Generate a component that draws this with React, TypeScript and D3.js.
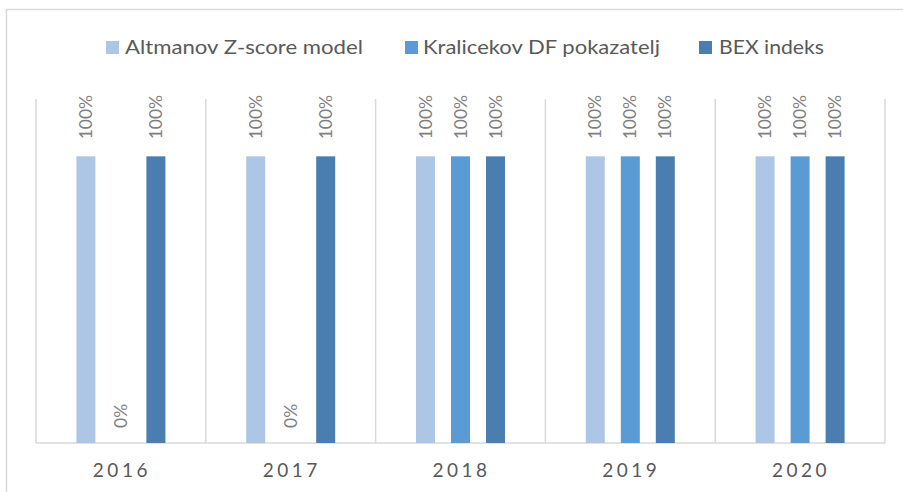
import React from "react";
import * as d3 from "d3";

const years = ["2016", "2017", "2018", "2019", "2020"];
const seriesNames = ["Altmanov Z-score model", "Kralicekov DF pokazatelj", "BEX indeks"];
const altman = [1, 1, 1, 1, 1];
const kralicek = [0, 0, 1, 1, 1];
const bex = [1, 1, 1, 1, 1];
const colors = ["#adc6e6", "#5b9bd5", "#4a7eb0"];

const W = 903;
const H = 492;
const plot = { left: 36, right: 885, top: 99, bottom: 443 };

export default function App() {
  const series = [altman, kralicek, bex];
  const x = d3.scaleBand().domain(years).range([plot.left, plot.right]).padding(0);
  const y = d3.scaleLinear().domain([0, 1.2]).range([plot.bottom, plot.top]);
  const barW = 19;
  const offsets = [-35, 0, 35];
  const fmt = d3.format(".0%");
  const legendItems = [
    { sq: 106, tx: 125, w: 238 },
    { sq: 405, tx: 423, w: 237 },
    { sq: 699, tx: 719, w: 105 },
  ];
  const boundaries = years.map((yr) => x(yr) as number).concat([plot.right]);
  const font = "Lato, 'Open Sans', 'Liberation Sans', sans-serif";
  return (
    <svg width={W} height={H} style={{ position: "absolute", left: 0, top: 0, background: "#fff" }}>
      <rect x={6.5} y={9.5} width={W + 10} height={H + 10} fill="#fff" stroke="#d9d9d9" strokeWidth={1.5} />
      {legendItems.map((l, i) => (
        <g key={i}>
          <rect x={l.sq} y={41} width={13} height={13} fill={colors[i]} />
          <text
            x={l.tx}
            y={54}
            fontSize={20}
            fill="#595959"
            fontFamily={font}
            textLength={l.w}
            lengthAdjust="spacingAndGlyphs"
          >
            {seriesNames[i]}
          </text>
        </g>
      ))}
      {boundaries.map((b, i) => (
        <line key={i} x1={b} x2={b} y1={plot.top} y2={plot.bottom} stroke="#d9d9d9" strokeWidth={1.5} />
      ))}
      <line x1={plot.left} x2={plot.right} y1={plot.bottom} y2={plot.bottom} stroke="#d9d9d9" strokeWidth={1.5} />
      {years.map((yr, i) => {
        const cx = (x(yr) as number) + x.bandwidth() / 2;
        return (
          <g key={yr}>
            {series.map((s, j) => {
              const bx = cx + offsets[j];
              const v = s[i];
              const top = y(v);
              return (
                <g key={j}>
                  {v > 0 && (
                    <rect x={bx - barW / 2} y={top} width={barW} height={plot.bottom - top} fill={colors[j]} />
                  )}
                  <text
                    transform={`translate(${bx + 6},${top - (v > 0 ? 17 : 15)}) rotate(-90)`}
                    fontSize={17.5}
                    fill="#7f7f7f"
                    fontFamily={font}
                  >
                    {fmt(v)}
                  </text>
                </g>
              );
            })}
            <text
              x={cx + 1}
              y={477}
              textAnchor="middle"
              fontSize={19}
              fill="#595959"
              letterSpacing={3.5}
              fontFamily={font}
            >
              {yr}
            </text>
          </g>
        );
      })}
    </svg>
  );
}
